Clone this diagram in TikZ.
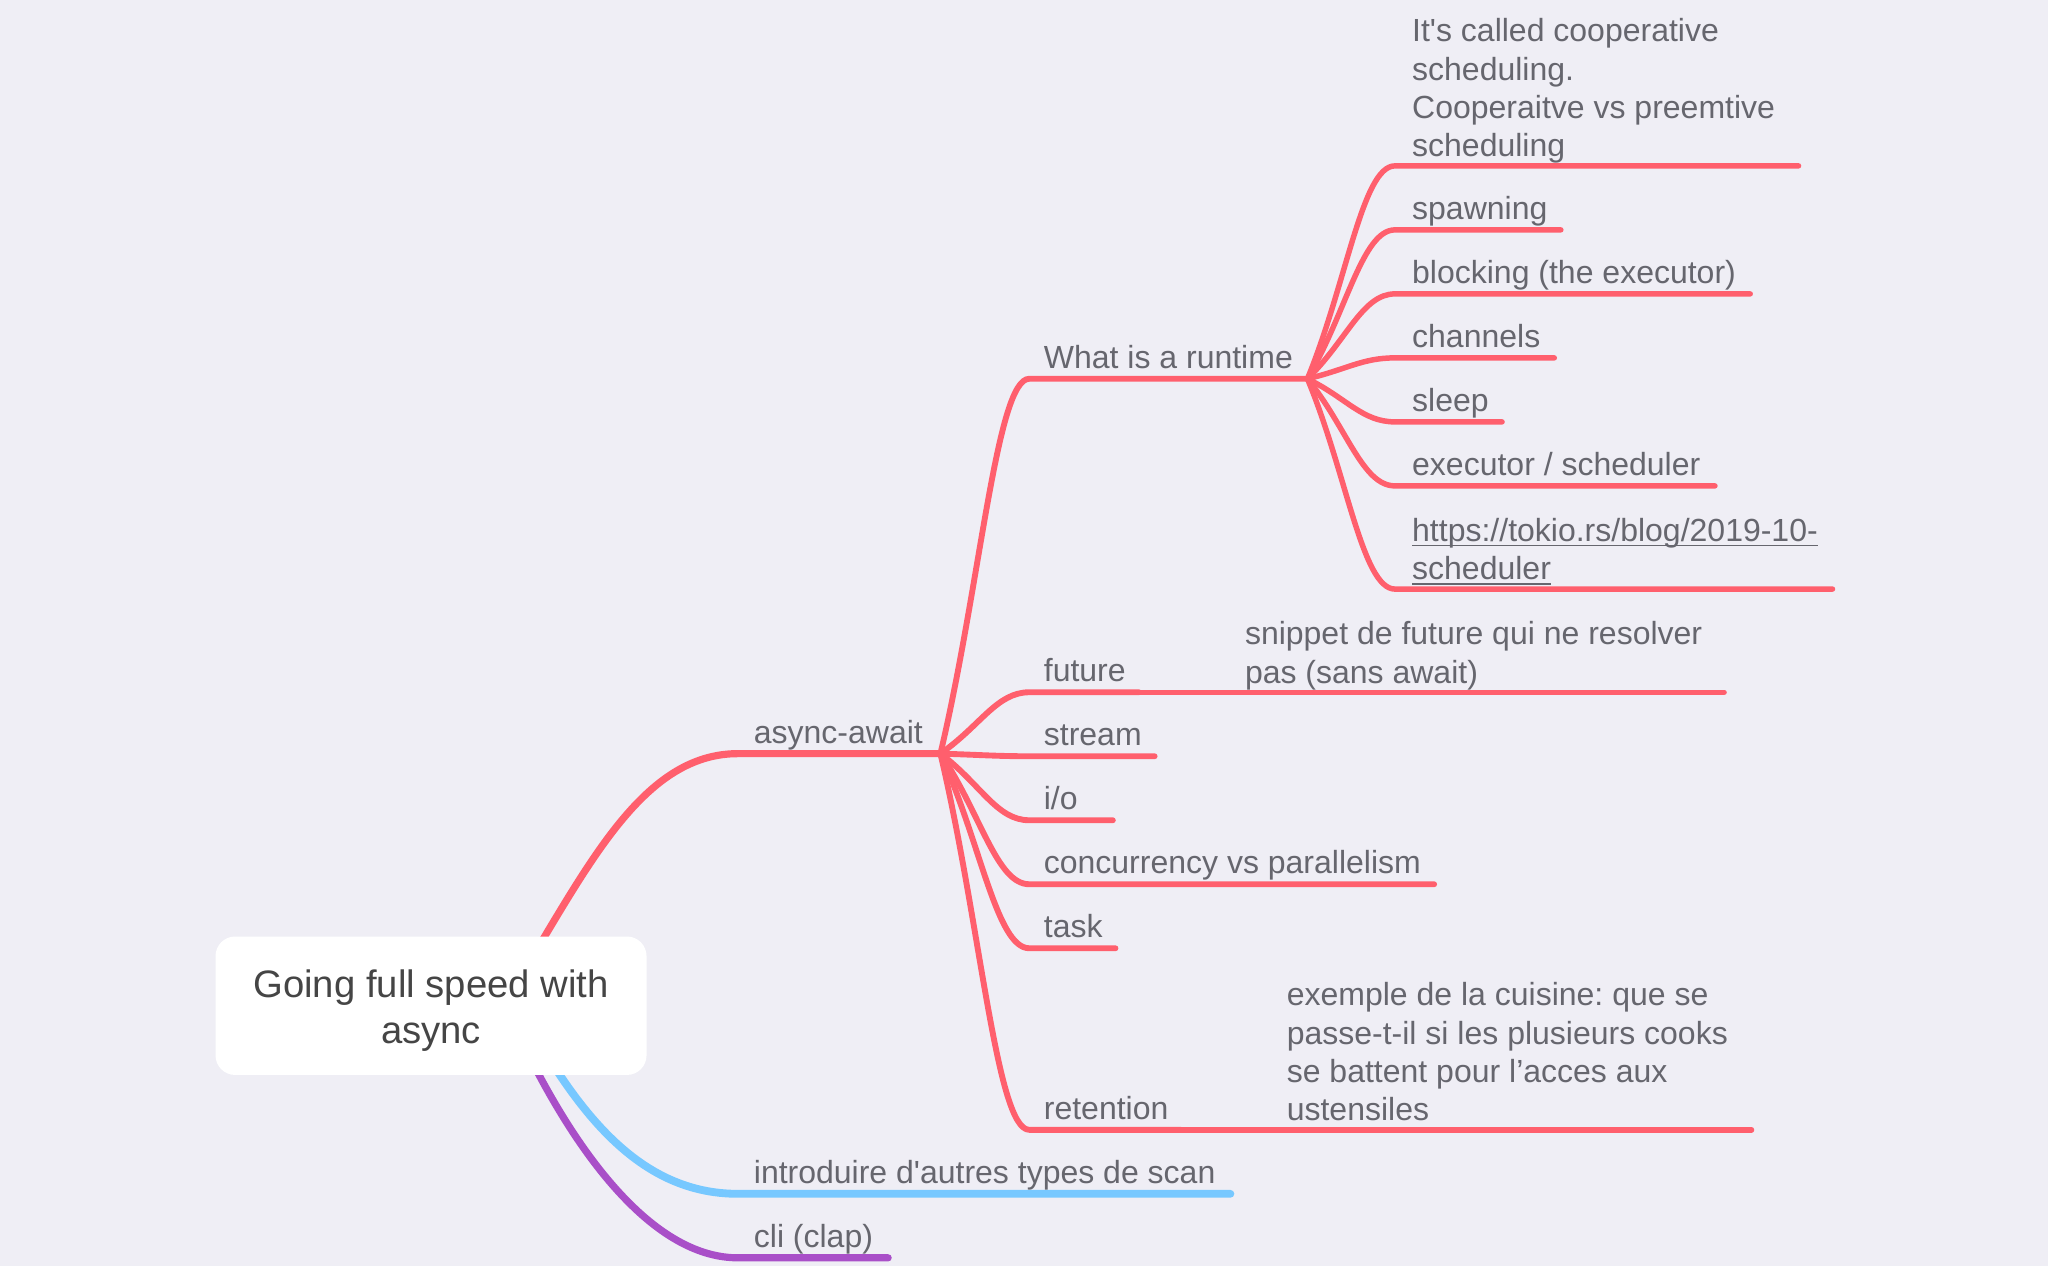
\documentclass[tikz,border=0pt]{standalone}
\usepackage{fontspec}
\setmainfont{Liberation Sans}
\usetikzlibrary{calc}
\frenchspacing
\definecolor{bgc}{HTML}{EFEEF5}
\definecolor{brc}{HTML}{FF5F6D}
\definecolor{bbc}{HTML}{77C8FF}
\definecolor{bpc}{HTML}{A94FC8}
\definecolor{txc}{HTML}{66666E}
\definecolor{rtc}{HTML}{454545}
\newcommand\myul[1]{\setbox0\hbox{#1}\rlap{\vrule height -2.2pt depth 3.6pt width \wd0}\box0}
\newcommand\twig[4]{\draw[#1] (#2) .. controls ($(#2)!0.45!(#3)$) and ($(#3)+(-25,0)$) .. (#3) -- (#4);}
\begin{document}
\begin{tikzpicture}[x=1pt,y=-1pt,
  lbl/.style={inner sep=0pt, text=txc, font=\fontsize{24.5}{29.3}\selectfont, align=left},
  one/.style={lbl, anchor=base west},
  multi/.style={lbl, anchor=south west},
  wire/.style={line cap=round, line join=round, draw=brc},
  lvA/.style={wire, line width=5.5pt},
  lvB/.style={wire, line width=4.5pt},
  lvC/.style={wire, line width=4.2pt},
  rootbox/.style={fill=white, rounded corners=15pt, minimum width=330pt, minimum height=106pt, inner sep=0pt, text=rtc, font=\fontsize{29.3}{35}\selectfont, align=center},
]
\fill[bgc] (0,0) rectangle (1568,969.3);
\useasboundingbox (0,0) rectangle (1568,969.3);

% hubs
\coordinate (rootc) at (330,770);
\coordinate (aw) at (720,577);
\coordinate (rt) at (1001,290);

% root branches
\coordinate (r1) at (414,722);
\coordinate (aws) at (565,577);
\draw[lvA] (r1) .. controls (460,645) and (500,577) .. (aws) -- (aw);
\coordinate (r2) at (424,816);
\coordinate (ins) at (565,914);
\coordinate (ine) at (942,914);
\draw[lvA, draw=bbc, line width=6pt] (r2) .. controls (462,875) and (505,914) .. (ins) -- (ine);
\coordinate (r3) at (409,816);
\coordinate (cls) at (565,963);
\coordinate (cle) at (680,963);
\draw[lvA, draw=bpc] (r3) .. controls (450,895) and (505,963) .. (cls) -- (cle);

\node[rootbox] (root) at (rootc) {\rule{0pt}{28.5pt}Going full speed with\\async};

\node[one] (awl) at (577,569) {async-await};
\node[one] (inl) at (577,906) {introduire d\textquotesingle autres types de scan};
\node[one] (cll) at (577,955) {cli (clap)};

% async-await children
\coordinate (a1s) at (788,290);
\draw[lvB] (aw) .. controls ($(aw)!0.45!(a1s)$) and ($(a1s)+(-25,0)$) .. (a1s) -- (rt);
\node[one] (a1) at (799,282) {What is a runtime};

\coordinate (a2s) at (788,530);
\coordinate (a2e) at (872,530);
\coordinate (a2f) at (1320,530);
\twig{lvB}{aw}{a2s}{a2e}
\draw[lvC] (a2e) -- (a2f);
\node[one] (a2) at (799,522) {future};
\node[multi] (a2c) at (953,528.3) {snippet de future qui ne resolver\\pas (sans await)\vphantom{g}};

\coordinate (a3s) at (788,579);
\coordinate (a3e) at (884,579);
\twig{lvB}{aw}{a3s}{a3e}
\node[one] (a3) at (799,571) {stream};

\coordinate (a4s) at (788,628);
\coordinate (a4e) at (852,628);
\twig{lvB}{aw}{a4s}{a4e}
\node[one] (a4) at (799,620) {i/o};

\coordinate (a5s) at (788,677);
\coordinate (a5e) at (1098,677);
\twig{lvB}{aw}{a5s}{a5e}
\node[one] (a5) at (799,669) {concurrency vs parallelism};

\coordinate (a6s) at (788,726);
\coordinate (a6e) at (854,726);
\twig{lvB}{aw}{a6s}{a6e}
\node[one] (a6) at (799,718) {task};

\coordinate (a7s) at (788,865);
\coordinate (a7e) at (904,865);
\coordinate (a7f) at (1341,865);
\twig{lvB}{aw}{a7s}{a7e}
\draw[lvC] (a7e) -- (a7f);
\node[one] (a7) at (799,857) {retention};
\node[multi] (a7c) at (985,863.3) {exemple de la cuisine: que se\\passe-t-il si les plusieurs cooks\\se battent pour l’acces aux\\ustensiles\vphantom{g}};

% runtime children
\coordinate (b1s) at (1068,127);
\coordinate (b1e) at (1377,127);
\twig{lvC}{rt}{b1s}{b1e}
\node[multi] (b1) at (1081,125.3) {It\textquotesingle s called cooperative\\scheduling.\\Cooperaitve vs preemtive\\scheduling\vphantom{g}};

\coordinate (b2s) at (1068,176);
\coordinate (b2e) at (1195,176);
\twig{lvC}{rt}{b2s}{b2e}
\node[one] (b2) at (1081,168) {spawning};

\coordinate (b3s) at (1068,225);
\coordinate (b3e) at (1340,225);
\twig{lvC}{rt}{b3s}{b3e}
\node[one] (b3) at (1081,217) {blocking (the executor)};

\coordinate (b4s) at (1068,274);
\coordinate (b4e) at (1190,274);
\twig{lvC}{rt}{b4s}{b4e}
\node[one] (b4) at (1081,266) {channels};

\coordinate (b5s) at (1068,323);
\coordinate (b5e) at (1150,323);
\twig{lvC}{rt}{b5s}{b5e}
\node[one] (b5) at (1081,315) {sleep};

\coordinate (b6s) at (1068,372);
\coordinate (b6e) at (1313,372);
\twig{lvC}{rt}{b6s}{b6e}
\node[one] (b6) at (1081,364) {executor / scheduler};

\coordinate (b7s) at (1068,451);
\coordinate (b7e) at (1403,451);
\twig{lvC}{rt}{b7s}{b7e}
\node[multi] (b7) at (1081,449.3) {\myul{https://tokio.rs/blog/2019-10-}\\\myul{scheduler}\vphantom{g}};
\end{tikzpicture}
\end{document}
